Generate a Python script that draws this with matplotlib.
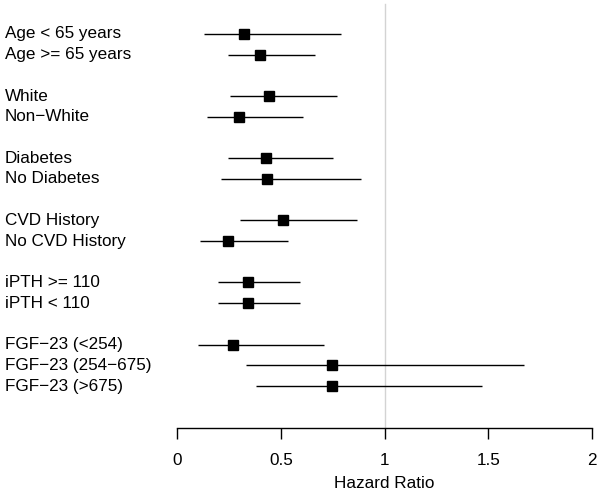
import numpy as np
import matplotlib.pyplot as plt

plt.rcParams['font.family'] = ['Liberation Sans', 'DejaVu Sans']

# Subgroup labels and hazard ratio estimates with 95% CI
labels = ['Age < 65 years', 'Age >= 65 years',
          'White', 'Non\u2212White',
          'Diabetes', 'No Diabetes',
          'CVD History', 'No CVD History',
          'iPTH >= 110', 'iPTH < 110',
          'FGF\u221223 (<254)', 'FGF\u221223 (254\u2212675)', 'FGF\u221223 (>675)']
rows = [1, 2, 4, 5, 7, 8, 10, 11, 13, 14, 16, 17, 18]
hr = [0.323, 0.401, 0.445, 0.297, 0.428, 0.436, 0.513, 0.244, 0.342, 0.342, 0.268, 0.746, 0.748]
lower = [0.131, 0.244, 0.257, 0.144, 0.244, 0.214, 0.305, 0.111, 0.196, 0.196, 0.102, 0.331, 0.379]
upper = [0.792, 0.663, 0.770, 0.609, 0.752, 0.885, 0.866, 0.537, 0.593, 0.595, 0.707, 1.673, 1.472]
xticks = [0, 0.5, 1, 1.5, 2]
xticklabels = ['0', '0.5', '1', '1.5', '2']

W, H = 600, 493
fig = plt.figure(figsize=(W / 100, H / 100), dpi=100)
axis_px = 428
ax = fig.add_axes([0, (H - axis_px) / H, 1, axis_px / H])

# pixel mapping: x=0 -> 177px, x=2 -> 592px
ppu = (592 - 177) / 2
ax.set_xlim(-177 / ppu, (W - 177) / ppu)
rstep = (386 - 34) / 17
ax.set_ylim(1 + (axis_px - 34) / rstep, 1 - 34 / rstep)

ax.axvline(1, ymin=0, ymax=(axis_px - 4) / axis_px, color='#d3d3d3', lw=1)

ax.hlines(rows, lower, upper, color='black', lw=1)
ax.plot(hr, rows, 's', color='black', markersize=6.8, linestyle='none')

fs = 12.3
for lab, r in zip(labels, rows):
    ax.text(5 / W, r, lab, transform=ax.get_yaxis_transform(), ha='left', va='center', fontsize=fs)

for s in ['top', 'right', 'left']:
    ax.spines[s].set_visible(False)
ax.spines['bottom'].set_bounds(0, 2)
ax.spines['bottom'].set_linewidth(1)
ax.set_yticks([])
ax.set_xticks(xticks)
ax.set_xticklabels(xticklabels, fontsize=fs)
ax.tick_params(axis='x', length=8, width=1, pad=10)
fig.text(384 / W, 1 - 484 / H, 'Hazard Ratio', ha='center', va='center', fontsize=fs)

fig.savefig('out.png', dpi=100)
